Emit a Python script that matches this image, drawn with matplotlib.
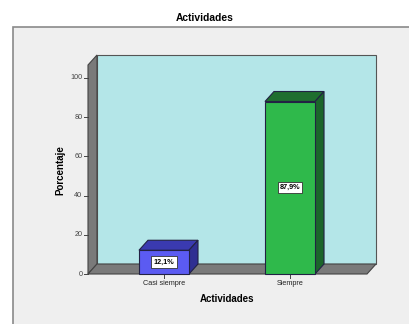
import matplotlib.pyplot as plt
import matplotlib.transforms as mtransforms
from matplotlib.patches import Polygon, Rectangle

categorias = ["Casi siempre", "Siempre"]
porcentajes = [12.1, 87.9]
etiquetas = ["12,1%", "87,9%"]
yticks = [0, 20, 40, 60, 80, 100]

frente = ["#5b5bf2", "#2fb94b"]
tapa = ["#3a3ab0", "#1f6e2f"]
lado = ["#2f2f92", "#1b652a"]

plt.rcParams['font.family'] = ['Liberation Sans', 'DejaVu Sans']

W, H = 409, 324
fig = plt.figure(figsize=(W / 100, H / 100), dpi=100)
fig.patch.set_facecolor("white")

# marco gris del grafico
fig.patches.append(Rectangle((13 / W, -0.05), 1.1, (H - 27) / H + 0.05,
                             transform=fig.transFigure, facecolor="#efefef",
                             edgecolor="#8a8a8a", lw=1.2, zorder=-5))

x0, x1, y0, y1 = 88, 367, 274, 65
ax = fig.add_axes([x0 / W, (H - y0) / H, (x1 - x0) / W, (y0 - y1) / H])
ax.set_zorder(1)
ax.set_xlim(-0.603, 1.611)
ax.set_ylim(0, 106.5)
ax.axis("off")

xmin, xmax = ax.get_xlim()
ymax = ax.get_ylim()[1]
dx, dy = 9, 10
atras = ax.transData + mtransforms.ScaledTranslation(dx / 100, dy / 100, fig.dpi_scale_trans)


def to_back(x, y):
    # punto desplazado hacia el fondo, en coordenadas de datos
    px = atras.transform((x, y))
    return tuple(ax.transData.inverted().transform(px))


def poly(pts, fc, ec, z):
    ax.add_patch(Polygon(pts, closed=True, facecolor=fc, edgecolor=ec,
                         lw=0.8, zorder=z, clip_on=False))


# pared del fondo, pared lateral y suelo
poly([to_back(xmin, 0), to_back(xmax, 0), to_back(xmax, ymax), to_back(xmin, ymax)],
     "#b4e6e8", "#555555", 1)
poly([(xmin, 0), to_back(xmin, 0), to_back(xmin, ymax), (xmin, ymax)],
     "#7a7a7a", "#444444", 2)
poly([(xmin, 0), (xmax, 0), to_back(xmax, 0), to_back(xmin, 0)],
     "#7a7a7a", "#444444", 2)

ancho = 0.397
for i, v in enumerate(porcentajes):
    l, r = i - ancho / 2, i + ancho / 2
    poly([(l, v), (r, v), to_back(r, v), to_back(l, v)], tapa[i], "#222244", 3)
    poly([(r, 0), to_back(r, 0), to_back(r, v), (r, v)], lado[i], "#222244", 3)
    poly([(l, 0), (r, 0), (r, v), (l, v)], frente[i], "#222244", 4)
    ax.text(i, v / 2, etiquetas[i], ha="center", va="center", fontsize=5.2,
            fontweight="bold", zorder=5,
            bbox=dict(boxstyle="square,pad=0.3", facecolor="white",
                      edgecolor="#333333", lw=0.6))

# ejes: marcas y etiquetas
for t in yticks:
    ax.plot([xmin - 0.035, xmin], [t, t], color="#444444", lw=0.7, clip_on=False)
    ax.text(xmin - 0.045, t, str(t), ha="right", va="center", fontsize=5.2,
            color="#444444")
for i, c in enumerate(categorias):
    ax.plot([i, i], [0, -2.2], color="#444444", lw=0.7, clip_on=False)
    ax.text(i, -3.2, c, ha="center", va="top", fontsize=5.2, color="#222222")

fig.text(205 / W, 1 - 18 / H, "Actividades", ha="center", va="center",
         fontsize=7.4, fontweight="bold")
fig.text(227 / W, 1 - 299 / H, "Actividades", ha="center", va="center",
         fontsize=7.0, fontweight="bold")
fig.text(60 / W, 1 - 170 / H, "Porcentaje", ha="center", va="center",
         rotation=90, fontsize=7.0, fontweight="bold")

fig.savefig("out.png", dpi=100)
